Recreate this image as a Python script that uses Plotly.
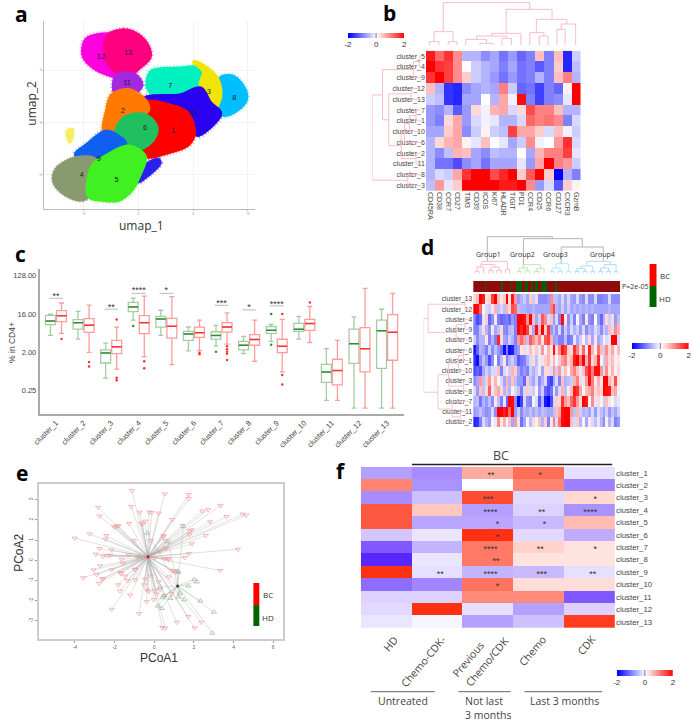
"""
Six-panel figure: UMAP, marker heatmap, cluster boxplots, patient heatmap, PCoA, treatment heatmap.
"""

import plotly.graph_objects as go

W, H = 693, 723
SANS = "Liberation Sans"
CALIBRI = "Open Sans"
BWR = [[0, "#0000ff"], [0.5, "#ffffff"], [1, "#ff0000"]]
BWR_F = [[0, "#3a00ff"], [0.5, "#ffffff"], [1, "#ff2000"]]
PINK = "#f7bcc8"

# --- a: UMAP cluster outlines, in umap units
UMAP_NAMES = ["12", "13", "11", "7", "8", "3", "10", "1", "2", "6", "9", "10b", "4", "5", "y"]
UMAP_COLORS = ["#ff00dc", "#ff0080", "#a428e0", "#00f0c0", "#00bfff", "#f0e400", "#2a00f0", "#ff0000",
               "#ff7a00", "#20c060", "#1060f0", "#2a20f0", "#8a9a70", "#40f020", "#f5ee60"]
UMAP_X = [
    [-4.79, -3.29, -1.80, -1.65, -2.99, -4.49, -5.0],
    [-2.69, -1.35, 0, 0.90, 1.05, 0, -0.90, -1.95, -2.84, -2.99],
    [-1.95, -0.30, 0.30, -0.45, -2.10],
    [1.20, 3.59, 5.69, 6.29, 5.69, 3.59, 2.10, 0.90],
    [7.49, 8.68, 9.73, 9.82, 8.98, 7.78, 7.19, 7.49],
    [5.09, 6.29, 7.19, 7.49, 6.89, 5.99, 5.69, 5.99],
    [0.60, 3.89, 5.69, 6.59, 7.49, 6.59, 5.39, 4.79, 2.99, 0.90],
    [0.60, 2.99, 4.49, 5.09, 4.49, 2.40, 0.90, 0.30, 1.05, 0.40],
    [-2.40, -0.90, 0.60, 0.90, -0.60, -1.80, -3.08, -2.84],
    [-1.20, 0.60, 1.65, 1.50, 0.60, -0.90, -2.10, -1.95],
    [-2.99, -1.80, -1.20, -2.99, -4.49, -5.69, -4.49],
    [0, 0.60, 1.80, 1.95, 0.90],
    [-7.49, -5.69, -3.89, -3.59, -4.19, -4.94, -6.29, -7.63],
    [-2.99, -0.90, 0.60, 0.05, -0.60, -1.80, -3.29, -4.49, -4.19],
    [-6.44, -6.05, -6.23],
]
UMAP_Y = [
    [7.87, 8.41, 8.19, 4.54, 4.70, 5.65, 6.44],
    [8.35, 8.83, 8.35, 7.24, 6.29, 5.17, 4.54, 4.86, 5.97, 7.56],
    [4.54, 4.54, 3.59, 2.80, 2.90],
    [4.86, 5.17, 5.17, 4.06, 3.27, 2.63, 2.48, 3.27],
    [4.22, 4.38, 3.11, 2.16, 1.21, 0.73, 1.21, 2.48],
    [5.81, 5.17, 4.22, 2.48, 1.37, 2.16, 3.75, 4.86],
    [2.30, 2.63, 3.27, 1.84, 0.89, -0.38, -1.17, 0.57, 1.20, 1.50],
    [1.95, 1.60, 0.90, -1.02, -2.13, -2.92, -3.24, -2.29, -0.70, 0.89],
    [2.63, 3.11, 2.16, 1.21, 0.25, -0.60, -0.86, 1.21],
    [0.50, 0.73, -0.38, -1.33, -2.29, -2.75, -1.65, -0.54],
    [-0.86, -1.33, -1.97, -3.24, -3.56, -3.08, -1.97],
    [-5.62, -4.19, -3.56, -3.87, -4.98],
    [-4.51, -3.40, -3.56, -5.14, -6.41, -7.30, -7.05, -5.78],
    [-3.24, -2.29, -3.24, -5.14, -6.41, -7.37, -7.37, -7.05, -4.19],
    [-0.86, -0.70, -1.81],
]
UMAP_LABELS = ["1", "2", "3", "4", "5", "6", "7", "8", "9", "10", "11", "12", "13"]
UMAP_LABEL_X = [3.2, -1.41, 6.44, -5.15, -1.98, 0.63, 2.93, 8.77, -3.59, 4.97, -1.02, -3.38, -0.93]
UMAP_LABEL_Y = [-0.83, 1.11, 2.92, -4.98, -5.52, -0.57, 3.49, 2.38, -3.46, 0.95, 3.78, 6.29, 6.67]

# --- b: marker heatmap
B_ROWS = ["cluster_5", "cluster_4", "cluster_9", "cluster_12", "cluster_13", "cluster_7", "cluster_1",
          "cluster_10", "cluster_6", "cluster_2", "cluster_11", "cluster_8", "cluster_3"]
B_COLS = ["CD45RA", "CD38", "CCR7", "CD27", "TIM3", "CD39", "ICOS", "Ki67", "HLADR", "TIGIT", "PD1",
          "CCR4", "CD25", "CCR6", "CD127", "CXCR3", "GzmB"]
B_Z = [
    [1.8, 1.2, 1.6, 0.9, -0.6, -0.6, -0.9, -0.7, -1.1, -0.8, -1.2, -1.0, 0.5, -1.0, 0.5, -1.7, -0.4],
    [2.0, 1.6, 1.5, 0.9, 0.0, -0.4, -0.6, -0.7, -1.0, -0.7, -1.1, -1.0, -1.3, -1.0, 0.4, -1.7, -0.5],
    [1.6, 2.0, 1.5, 0.9, 0.4, -0.4, -0.6, -0.8, -1.1, -0.8, -1.1, -1.0, -0.6, -1.0, 0.5, 1.0, -0.6],
    [0.5, -0.6, -1.6, -1.7, -0.9, -0.7, -0.6, -0.7, 1.0, -0.4, -1.2, -1.1, -1.5, -1.0, -1.2, 0.1, 2.0],
    [-0.4, -0.5, -1.6, -1.7, -0.7, -0.7, 0.0, -0.6, 0.7, -0.1, 1.9, -1.0, -1.5, -1.0, -0.9, -0.2, 2.0],
    [-0.8, -0.9, -0.6, -1.3, -0.8, 0.3, -0.1, 0.6, 0.7, -0.3, 0.3, 1.4, 1.0, 1.0, 0.5, -0.6, -0.6],
    [-0.8, -1.0, 0.3, 0.7, -0.8, -0.3, -0.1, -0.2, -0.6, -0.6, -0.3, 1.2, 1.0, 1.1, 0.9, -1.0, -0.3],
    [-0.7, -0.7, 0.4, 0.7, -0.9, -0.4, 0.1, -0.4, -0.5, 1.5, 0.7, 0.7, 0.4, -0.3, 0.5, -0.1, -0.4],
    [-0.6, 0.3, 0.6, 0.7, 0.1, -0.2, 0.5, 0.0, -0.2, -0.7, -0.4, 0.9, -0.1, 0.0, 0.8, 1.6, -0.3],
    [-0.6, -0.9, -0.5, 0.6, 0.5, -0.7, -0.9, -0.5, -0.6, -0.6, 0.0, -0.7, 0.6, 1.0, 1.0, 1.5, -0.2],
    [-0.6, -1.1, -1.1, -1.4, -0.9, -0.7, -1.1, -0.7, -0.7, -0.7, -0.2, -0.8, 0.7, 2.0, 1.0, 0.8, -0.4],
    [-0.6, -0.3, -0.4, 0.7, 1.6, 2.0, 2.0, 1.4, 1.7, 2.0, 0.4, 1.3, 2.0, 0.4, -2.0, -0.6, -1.0],
    [-0.5, 0.8, -0.2, 0.4, 2.0, 2.0, 2.0, 2.0, 1.8, 1.8, 2.0, 0.9, -0.8, -0.3, -1.3, 0.4, 0.1],
]
# dendrogram merges: (pos a, height a, pos b, height b, merge height)
B_TOP_TREE = [(386, 135, 415, 135, 125), (443, 135, 470, 135, 125), (400, 125, 458, 125, 95),
              (540, 135, 580, 135, 130), (497, 135, 560, 130, 118), (607, 135, 636, 135, 115),
              (530, 118, 622, 115, 108), (575, 108, 665, 135, 100), (721, 135, 748, 135, 108),
              (692, 135, 735, 108, 98), (775, 135, 800, 135, 88), (788, 88, 832, 135, 72),
              (712, 98, 805, 72, 58), (620, 100, 760, 58, 28), (428, 95, 692, 28, 8)]
B_ROW_TREE = [(0, 360, 1, 360, 355), (0.5, 355, 2, 360, 338), (3, 360, 4, 360, 330), (5, 360, 6, 360, 345),
              (5.5, 345, 7, 360, 325), (6.25, 325, 8, 360, 310), (9, 360, 10, 360, 345),
              (7.1, 310, 9.5, 345, 300), (3.5, 330, 8.3, 300, 262), (1.25, 338, 5.9, 262, 243),
              (11, 360, 12, 360, 320), (3.6, 243, 11.5, 320, 212)]

# --- c: boxplots, % in CD4+ (HD green, BC red)
C_CLUSTERS = [f"cluster_{i}" for i in range(1, 14)]
HD_HI = [15.8, 18.5, 3.3, 38, 19.6, 7.9, 8.6, 4.75, 9.1, 14.1, 2.44, 13.6, 20.7]
HD_Q3 = [14.9, 11.8, 2.27, 30, 14.1, 6.2, 6.1, 3.6, 8.1, 9.6, 1.04, 7.0, 11.4]
HD_MED = [10.9, 10.0, 1.93, 23.5, 12.2, 5.4, 5.0, 2.93, 6.6, 7.0, 0.69, 3.2, 6.4]
HD_Q1 = [9.0, 7.0, 1.12, 18.2, 7.8, 3.8, 4.1, 2.27, 5.6, 6.2, 0.39, 1.1, 0.84]
HD_LO = [5.0, 4.1, 0.49, 11.4, 5.0, 2.15, 2.8, 1.86, 3.6, 4.1, 0.148, 0.097, 0.097]
BC_HI = [29, 26, 7.8, 42, 41, 11.4, 16.9, 11.4, 12, 24, 3.83, 64, 49]
BC_Q3 = [19.2, 12.5, 3.8, 14.6, 12.6, 7.8, 10, 5.2, 4.06, 12, 1.37, 7.6, 15.5]
BC_MED = [14.6, 8.7, 2.7, 10, 8.2, 5.8, 7.9, 4.0, 2.77, 9.5, 0.74, 2.44, 5.9]
BC_Q1 = [10.6, 5.9, 1.86, 5.5, 4.3, 4.5, 6.0, 2.93, 1.96, 6.6, 0.34, 0.69, 1.3]
BC_LO = [5.6, 2.0, 0.8, 1.58, 1.02, 2.2, 3.1, 1.23, 0.69, 3.4, 0.148, 0.097, 0.097]
HD_OUT_X = [3, 6, 8, 8]
HD_OUT_Y = [8.3, 2.07, 16, 3.03]
BC_OUT_X = [0, 1, 1, 2, 2, 2, 3, 3, 5, 5, 6, 6, 6, 6, 6, 8, 8, 8, 9]
BC_OUT_Y = [4.1, 1.18, 0.93, 0.5, 0.44, 11.8, 1.23, 0.84, 1.96, 1.8, 2.77, 2.35, 2.07, 1.86, 1.32, 16, 0.58, 0.35, 30]
SIG_X = [0, 2, 3, 4, 6, 7, 8]
SIG_TEXT = ["**", "**", "****", "*", "***", "*", "****"]
SIG_TEXT_Y = [41, 22, 55, 55, 28, 22, 27]
SIG_BAR_Y = [37.5, 20.7, 49, 49, 25.6, 20, 24.8]

# --- d: patient heatmap
D_ROWS = ["cluster_13", "cluster_12", "cluster_4", "cluster_9", "cluster_5", "cluster_6", "cluster_1",
          "cluster_10", "cluster_3", "cluster_8", "cluster_7", "cluster_11", "cluster_2"]
D_13 = [.3, .5, 2, 1.8, .2, .3, 1.5, 2, .5, .2, .4, 2, .2, 1.8, .8, -.8, -.6, -.4, -.7, .4, -.4, .3, -.9, -.9, -.9,
        -.8, .9, -.5, -.5, -.7, -.3, -.7, -.3, -.7, -.8, -.3, -.8, -.9, -.3, -.9, -.9, -.3, -1, -1, -.9, -.9, -.3, -.9, -.9, -.9]
D_12 = [2, 1.9, 1.2, .1, -.3, -.4, -.2, .6, -.5, -.3, -.5, .6, .3, 1.4, 1.2, -.5, -.6, -.6, -.7, -.7, -.6, -.7, -.7, -.7, -.7,
        -.7, 1, 1.5, -.6, -.7, -.4, -.7, -.4, -.7, -.6, -.7, -.6, -.7, -.6, -.7, -.6, -.7, -.7, -.7, -.7, -.7, -.6, -.7, -.7, -.7]
D_4 = [-1, -1.4, -1.2, -.2, .4, -1.2, -.9, .2, -1, -1.2, -1.1, -1, -1.2, -.8, -1, 2, 2, 1.9, .8, 2, .5, -.7, -.4, 1.3, .9,
       -.3, .5, -.8, -.3, -1, 1.9, .2, -.9, -.4, -1, .1, -.7, -1, .2, -.9, -1, 0, -.8, -1.2, -.6, .3, -.4, .3, -.8, -.5]
D_9 = [-1, -1, -.5, .3, -.6, -.9, .2, -.7, -.5, .3, -.9, -1, -.6, -.5, -1, 2, 1.7, 2, 1.5, .3, -.7, 1.9, .6, 2, .4,
       1.6, -.8, -.5, -.9, -.3, -1, -.4, -.8, -.3, -.6, -.4, -.8, -.3, -.9, -.6, -.7, -.3, -.5, -.9, -.4, -.6, .5, -.3, .9, .6]
D_5 = [-.4, -.9, -.6, -.6, .2, -1, -.6, -1, 1.7, .3, -.7, -.8, -.4, -.6, -1, .8, 1.2, .8, -.5, 1.3, .9, .5, 1, .2, 1.3,
       1.5, .6, -.8, -.7, -1, -1, -.5, -1.1, -1, -.2, -.7, -.4, .1, -.5, .3, -.7, .2, -.7, -.5, .1, -.3, -.2, 2, 2, -.3]
D_6 = [-1.8, -1.2, -.6, -.7, -1, -.4, -.9, -.5, -.8, -1.1, -1.9, -1, -1.9, -1.8, -1, -.8, .2, .3, -.2, .5, .2, .4, -.2, .8, -.1,
       .6, .2, 1.9, .3, .9, 1.8, 1.5, .4, .3, 1.6, 1, .3, 1.2, .2, 1.7, .6, .1, 1.1, .5, -.4, .9, .3, .7, .1, .5]
D_1 = [-1.6, -1.9, -.9, -.5, -.8, -1.4, -.9, 0, -1, -.5, .2, -1, -.6, -.4, -.7, -1.3, -1.1, -1, -.6, -.3, .3, -.5, .2, -.2, .4,
       .6, .2, .6, -.1, .4, .8, 1, .3, .6, 1.8, 2, 1.1, 2, .6, 1.6, .3, .6, 1.7, .1, -.4, .7, .3, .5, .1, .2]
D_10 = [-1.4, -1.2, -1.4, -.7, -.4, -.6, -.3, -.3, .5, -1, -.3, .2, -.4, .6, .4, -.7, -1, -.8, -1, -.4, -.6, -.4, .2, -.7, .3,
        .3, -.3, .8, -.4, .8, -.2, .5, .1, .7, 1, .5, -.2, .5, 1.4, 1.8, 1, 1.9, 1.9, .8, -.3, .9, .2, .6, -.1, .3]
D_3 = [-.9, -.7, .8, -.5, .4, .8, .2, .6, .1, -.3, -.7, .6, -.6, .5, -.5, -.8, -.8, -1.2, .4, -.5, -.7, -.3, -.9, -.6, -.3,
       -1.3, -1.5, -.7, -.3, -1, .5, -.6, -.5, -.4, .6, 1, .3, -.2, .8, 1.9, 1, .2, .6, .2, 2, 2, .6, .3, 1.4, .2]
D_8 = [-.3, -.8, .5, -.5, .3, 1.3, -.2, .5, .7, .3, -.6, .5, -.6, .1, -.3, -.5, -1, -.3, .4, -.3, -.4, .1, -.8, -.4, -1.2,
       -1.4, -1.1, -.2, -.8, -.3, .6, -.5, .2, .5, 1.8, 1.6, .7, .1, .5, .7, 1, .3, .5, .3, 2, 1.9, 1.8, .5, .7, -.1]
D_7 = [-.6, -.5, -1.1, -.6, -.8, -.5, -.9, .2, -.5, -1, -.2, -1.2, 2, 1.9, -.9, -2, -1.5, -.3, -.9, -1, .1, -.3, -1.3, -.6, -1.8,
       -2, -1.4, -.3, .4, .3, 1.6, .8, .5, 1.2, 1.6, .8, .3, 2, 1.8, .1, .9, -.2, .3, .1, -.4, .5, .2, .1, -.3, -.2]
D_11 = [-.8, -.7, -.5, -.7, -.9, -.8, -.3, -.9, 2, 2, 1.8, 2, 1.2, 2, -.8, -.4, -.9, -.6, -.7, -.5, -.7, -.5, -.7, -.5, -.6,
        -.7, -.7, -.5, .5, .7, 1.9, 2, 2, .8, -.5, .6, -.4, -.6, -.5, -.7, -.3, -.8, -.3, -.5, -.7, -.4, -.8, -.5, -.7, -.4]
D_2 = [-1.7, -1.6, -1, -.3, -.6, -.8, .1, -.2, .9, .2, .6, -.1, .5, -.7, .8, -.2, -1.1, -.7, .1, -.5, .3, -.1, .5, -.6, .4,
       -1, .2, 1, -.3, 1.1, 1.9, 2, 2, .5, -.3, .4, -.6, .1, -.7, .2, -.3, -.5, -.2, -.6, -.9, -.1, -.6, -.3, -1, -.8]
D_Z = [D_13, D_12, D_4, D_9, D_5, D_6, D_1, D_10, D_3, D_8, D_7, D_11, D_2]
# positions of HD samples along the annotation strip (out of 100)
D_HD_SLOTS = [8, 19, 25, 29, 30, 31, 32, 35, 36, 39, 40, 42, 43, 46, 47, 48, 49, 56]
D_TREE_PINK = [(30, 124, 42, 124, 118), (36, 118, 56, 124, 105), (72, 124, 84, 124, 115), (96, 124, 110, 124, 115),
               (78, 115, 103, 115, 105), (122, 124, 135, 124, 112), (46, 105, 90, 105, 98), (50, 98, 128, 112, 88)]
D_TREE_GREEN = [(158, 124, 170, 124, 118), (182, 124, 196, 124, 116), (164, 118, 189, 116, 108),
                (210, 124, 226, 124, 118), (218, 118, 240, 124, 110), (176, 108, 229, 110, 98)]
D_TREE_CYAN = [(258, 124, 270, 124, 118), (282, 124, 296, 124, 118), (264, 118, 289, 118, 108),
               (308, 124, 320, 124, 118), (276, 108, 314, 118, 95)]
D_TREE_BLUE = [(334, 124, 346, 124, 118), (358, 124, 370, 124, 118), (340, 118, 364, 118, 110),
               (382, 124, 394, 124, 118), (352, 110, 388, 118, 102), (406, 124, 418, 124, 118),
               (430, 124, 442, 124, 118), (412, 118, 436, 118, 108), (454, 124, 464, 124, 118),
               (424, 108, 459, 118, 98), (370, 102, 441, 98, 88)]
D_TREE_GREY = [(292, 95, 420, 88, 45), (177, 98, 356, 45, 20), (67, 88, 265, 20, 14)]
D_ROW_TREE = [(0, 150, 1, 150, 135), (2, 150, 3, 150, 135), (2.5, 135, 4, 150, 108), (0.5, 135, 3.25, 108, 22),
              (5, 150, 6, 150, 130), (5.5, 130, 7, 150, 115), (8, 150, 9, 150, 130), (6.25, 115, 8.5, 130, 85),
              (11, 150, 12, 150, 120), (10, 150, 11.5, 120, 95), (7.4, 85, 10.75, 95, 52), (1.9, 22, 9.1, 52, 8)]

# --- e: PCoA
BC_PX = [-1.13, 0.53, 1.74, 1.74, 3.34, -2.83, -1.16, -0.73, -0.26, -0.12, 0.22, 2.42, 2.72, -2.76, 4.45, 4.64, 3.64,
         0.91, 2.81, -1.27, -0.66, -0.45, -0.60, -2.02, -1.87, -1.80, -1.94, 1.42, 1.89, 1.79, 1.77, -3.25, -2.42,
         -2.45, 0.48, 0.46, 0.55, 2.60, -4.01, -1.01, -0.18, 1.90, -2.76, -2.15, 0.56, 0.60, 0.31, 4.22, 1.75, -2.95,
         -2.58, -2.37, -2.22, -1.29, -0.86, 0.03, 1.54, -1.64, -1.57, 0.53, 0.70, 0.73, -2.73, -3.06, -2.15, -0.94,
         -0.98, 3.34, -2.90, 0.91, 0.99, 1.04, -3.58, -2.63, -2.58, -1.71, -1.67, -1.46, -0.17, 0.73, -2.78, -1.34,
         -0.96, -0.46, 0.22, -1.82, -0.51, -1.72, -1.21, -0.36, -0.28, 0.03, 0.28, 0.12, 0.86, 0.53, -0.38, -0.02,
         -2.14, -0.76, 1.72, 2.38, 1.14, 2.04, 0.40, 0.55]
BC_PY = [3.45, 3.28, 3.25, 3.05, 2.71, 2.61, 2.66, 2.38, 2.38, 2.36, 2.33, 2.44, 2.51, 2.19, 2.28, 2.23, 2.16,
         2.01, 1.90, 1.82, 1.85, 1.93, 1.77, 1.67, 1.70, 1.70, 1.62, 1.72, 1.50, 1.45, 1.27, 1.30, 1.22,
         1.04, 1.22, 1.16, 0.97, 1.22, 1.09, 0.97, 0.97, 0.81, 0.58, 0.51, 0.59, 0.58, 0.45, 0.54, 0.33, 0.30,
         0.20, 0.23, 0.25, 0.26, 0.15, 0.12, 0.13, 0.05, -0.17, 0.08, 0.08, 0.02, -0.28, -0.48, -0.48, -0.45,
         -0.45, -0.51, -0.71, -0.51, -0.51, -0.61, -0.87, -0.92, -0.92, -0.61, -0.66, -0.79, -0.78, -0.83, -1.14, -1.01,
         -0.97, -0.94, -1.07, -1.22, -1.22, -1.52, -1.73, -1.47, -1.55, -1.50, -1.47, -1.68, -1.65, -1.75, -2.05, -1.95,
         -2.43, -2.64, -2.79, -3.07, -3.07, -3.35, -3.33, -3.37]
HD_PX = [-0.35, 0.70, 1.47, -0.75, 1.19, 1.21, 2.02, 2.15, 1.72, 0.30, 1.29, 0.50, 0.40, 1.21, 0.81, 1.51, 2.33, 3.01, 0.18, 0.38, 2.93]
HD_PY = [1.35, 0.92, 1.67, 0.20, -0.53, -0.59, -0.94, -1.07, -1.27, -1.32, -1.63, -1.75, -1.85, -1.82, -1.88, -1.95, -2.01, -2.56, -2.26, -2.38, -3.60]
BC_CENTER = (-0.31, 0.18)
HD_CENTER = (1.18, -1.27)

# --- f: treatment heatmap
F_ROWS = [f"cluster_{i}" for i in range(1, 14)]
F_Z = [
    [-0.75, -0.9, 0.75, 1.3, -0.25],
    [1.1, -0.85, 0.0, 1.1, -1.0],
    [-0.9, -0.5, 1.6, -0.3, 0.35],
    [1.5, 0.5, -0.75, -0.35, -0.85],
    [1.5, -0.7, -0.7, -0.55, 0.6],
    [-0.45, -0.2, 1.85, -0.3, -0.65],
    [-1.3, -0.6, 1.2, 0.4, 0.25],
    [-1.7, -0.2, 1.2, 0.25, 0.25],
    [1.85, -0.25, -0.6, -0.55, -0.25],
    [-1.15, -0.95, 1.25, 0.3, 0.3],
    [-0.35, -0.35, 1.05, 1.05, -1.3],
    [-0.3, 1.85, -0.25, -0.75, -0.35],
    [-0.2, -0.08, -0.75, -0.5, 1.75],
]
F_STAR_ROW = [0, 0, 2, 2, 3, 3, 3, 4, 4, 5, 6, 6, 6, 7, 8, 8, 8, 8, 9]
F_STAR_COL = [2.06, 3.03, 2, 4.11, 2.05, 3.06, 4.01, 2.19, 3.11, 2.19, 2.05, 3.03, 4.11, 2.16, 1.06, 2.05, 3.06, 4.06, 2.19]
F_STARS = ["**", "*", "***", "*", "****", "**", "****", "*", "*", "*", "****", "**", "*", "**", "**", "****", "***", "**", "*"]

CBAR_STOPS = [-2, -1.5, -1, -0.5, 0, 0.5, 1, 1.5, 2]

fig = go.Figure()
n_axes = 0
OFF = dict(visible=False, fixedrange=True, showgrid=False, zeroline=False)


def new_axes(x0, x1, y0, y1, xopts, yopts):
    """Add an x/y axis pair placed by pixel box, return the trace refs."""
    global n_axes
    n_axes += 1
    sfx = "" if n_axes == 1 else str(n_axes)
    xr, yr = f"x{sfx}", f"y{sfx}"
    fig.update_layout(**{
        f"xaxis{sfx}": dict(domain=[x0 / W, x1 / W], anchor=yr, **xopts),
        f"yaxis{sfx}": dict(domain=[1 - y1 / H, 1 - y0 / H], anchor=xr, **yopts),
    })
    return xr, yr


def tree_xy(nodes):
    xs, ys = [], []
    for a, ha, b, hb, h in nodes:
        xs += [a, a, b, b, None]
        ys += [ha, h, h, hb, None]
    return xs, ys


def add_tree(nodes, refs, color, horizontal=False):
    xs, ys = tree_xy(nodes)
    if horizontal:
        xs, ys = ys, xs
    fig.add_trace(go.Scatter(x=xs, y=ys, mode="lines", xaxis=refs[0], yaxis=refs[1], showlegend=False,
                             line=dict(color=color, width=1), hoverinfo="skip"))


def add_cbar(x0, x1, y0, y1):
    refs = new_axes(x0, x1, y0, y1,
                    dict(range=[-2, 2], tickvals=[-2, 0, 2], ticktext=["-2", "0", "2"], ticks="", showgrid=False,
                         zeroline=False, tickfont=dict(family=SANS, size=8, color="#333"), fixedrange=True, ticklen=0),
                    dict(OFF, range=[0, 1]))
    fig.add_trace(go.Heatmap(x=CBAR_STOPS, y=[0, 1], z=[CBAR_STOPS, CBAR_STOPS], zmin=-2, zmax=2, zsmooth="best",
                             colorscale=BWR, showscale=False, xaxis=refs[0], yaxis=refs[1], hoverinfo="skip"))
    fig.add_trace(go.Scatter(x=[0, 0], y=[0, 1], mode="lines", line=dict(color="#777", width=1),
                             xaxis=refs[0], yaxis=refs[1], showlegend=False, hoverinfo="skip"))


# pixel canvas for free text and rules
PIX = new_axes(0, W, 0, H, dict(OFF, range=[0, W]), dict(OFF, range=[H, 0]))
annotations, shapes = [], []


def note(text, x, y, size=8, color="#333", angle=0, family=SANS, anchor="center", bold=False):
    label = f"<b>{text}</b>" if bold else text
    annotations.append(dict(text=label, x=x, y=y, xref=PIX[0], yref=PIX[1], showarrow=False, xanchor=anchor,
                            yanchor="middle", textangle=angle, font=dict(family=family, size=size, color=color)))


def rule(x0, x1, y, color="#666", width=1):
    shapes.append(dict(type="line", x0=x0, x1=x1, y0=y, y1=y, xref=PIX[0], yref=PIX[1],
                       line=dict(color=color, width=width)))


def block(x0, x1, y0, y1, color):
    shapes.append(dict(type="rect", x0=x0, x1=x1, y0=y0, y1=y1, xref=PIX[0], yref=PIX[1],
                       fillcolor=color, line=dict(width=0)))


for letter, lx, ly in [("a", 15, 14), ("b", 388, 13), ("c", 14, 254), ("d", 427, 247), ("e", 15, 473), ("f", 339, 471)]:
    note(letter, lx, ly, size=21, color="#000", family=CALIBRI, bold=True)

# --- panel a
a_ref = new_axes(37.7, 252, 21, 209,
                 dict(range=[-8.59, 10.69], tickvals=[-5, 0, 5, 10], gridcolor="#f3f3f3", zeroline=False, showline=True,
                      linecolor="#bbb", mirror=False, ticks="outside", ticklen=1, tickcolor="#bbb",
                      tickfont=dict(size=3, color="#777"), fixedrange=True),
                 dict(range=[-8.25, 9.71], tickvals=[-5, 0, 5], gridcolor="#f3f3f3", zeroline=False, showline=True,
                      linecolor="#bbb", mirror=False, ticks="outside", ticklen=1, tickcolor="#bbb",
                      tickfont=dict(size=3, color="#777"), fixedrange=True))
# dotted halo first so the cluster edges look scattered rather than cut
for color, xs, ys in zip(UMAP_COLORS, UMAP_X, UMAP_Y):
    fig.add_trace(go.Scatter(x=xs + xs[:1], y=ys + ys[:1], mode="lines", opacity=0.45, xaxis=a_ref[0], yaxis=a_ref[1],
                             line=dict(color=color, width=7, dash="1px,2px", shape="spline", smoothing=1),
                             showlegend=False, hoverinfo="skip"))
for name, color, xs, ys in zip(UMAP_NAMES, UMAP_COLORS, UMAP_X, UMAP_Y):
    fig.add_trace(go.Scatter(x=xs + xs[:1], y=ys + ys[:1], mode="lines", fill="toself", fillcolor=color,
                             line=dict(color=color, width=4, shape="spline", smoothing=1), name=name,
                             xaxis=a_ref[0], yaxis=a_ref[1], showlegend=False, hoverinfo="skip"))
fig.add_trace(go.Scatter(x=UMAP_LABEL_X, y=UMAP_LABEL_Y, text=UMAP_LABELS, mode="text", xaxis=a_ref[0], yaxis=a_ref[1],
                         textfont=dict(family=SANS, size=7.5, color="#222"), showlegend=False, hoverinfo="skip"))
note("umap_1", 136, 225, size=12, family=CALIBRI)
note("umap_2", 24, 103, size=12, family=CALIBRI, angle=-90)

# --- panel b
b_ref = new_axes(425, 582, 50.7, 191,
                 dict(range=[-0.5, 16.5], tickvals=list(range(17)), ticktext=B_COLS, tickangle=90, ticks="",
                      tickfont=dict(family=SANS, size=7, color="#444"), showgrid=False, zeroline=False, fixedrange=True),
                 dict(range=[12.5, -0.5], tickvals=list(range(13)), ticktext=B_ROWS, ticks="",
                      tickfont=dict(family=SANS, size=7, color="#444"), showgrid=False, zeroline=False, fixedrange=True))
fig.add_trace(go.Heatmap(z=B_Z, x=list(range(17)), y=list(range(13)), zmin=-2, zmax=2, colorscale=BWR, showscale=False,
                         xaxis=b_ref[0], yaxis=b_ref[1], hoverinfo="skip"))
b_top = new_axes(425, 582, 2, 46, dict(OFF, range=[375, 847]), dict(OFF, range=[138, 6]))
add_tree(B_TOP_TREE, b_top, PINK)
b_left = new_axes(370.7, 425, 50.7, 191, dict(OFF, range=[212, 375]), dict(OFF, range=[12.5, -0.5]))
add_tree(B_ROW_TREE, b_left, PINK, horizontal=True)
add_cbar(346, 403, 33, 38)

# --- panel c
c_ref = new_axes(33, 403, 269, 414,
                 dict(range=[-0.596, 12.62], tickvals=list(range(13)), ticktext=C_CLUSTERS, tickangle=-45, ticks="",
                      tickfont=dict(family=SANS, size=7.5, color="#444"), showgrid=False, zeroline=False, showline=True,
                      linecolor="#aaa", linewidth=1.5, fixedrange=True),
                 dict(type="log", range=[-1.153, 2.264], tickvals=[0.25, 2, 16, 128],
                      ticktext=["0.25", "2.00", "16.00", "128.00"], ticks="",
                      tickfont=dict(family=SANS, size=7.5, color="#444"), showgrid=False, zeroline=False, showline=True,
                      linecolor="#aaa", linewidth=1.5, fixedrange=True))
series = [(HD_LO, HD_Q1, HD_MED, HD_Q3, HD_HI, -0.2, "#a4cba4", "#2f8f2f", HD_OUT_X, HD_OUT_Y, "#2f8f2f"),
          (BC_LO, BC_Q1, BC_MED, BC_Q3, BC_HI, 0.2, "#ff9c9c", "#ff3030", BC_OUT_X, BC_OUT_Y, "#ff3030")]
for lo, q1, med, q3, hi, off, col, med_col, out_x, out_y, out_col in series:
    pos = [i + off for i in range(13)]
    fig.add_trace(go.Box(x=pos, lowerfence=lo, q1=q1, median=med, q3=q3, upperfence=hi, width=0.36, whiskerwidth=0.5,
                         boxpoints=False, fillcolor="rgba(0,0,0,0)", line=dict(color=col, width=1.3),
                         xaxis=c_ref[0], yaxis=c_ref[1], showlegend=False, hoverinfo="skip"))
    mx, my = [], []
    for p, m in zip(pos, med):
        mx += [p - 0.18, p + 0.18, None]
        my += [m, m, None]
    fig.add_trace(go.Scatter(x=mx, y=my, mode="lines", line=dict(color=med_col, width=1.5), xaxis=c_ref[0],
                             yaxis=c_ref[1], showlegend=False, hoverinfo="skip"))
    fig.add_trace(go.Scatter(x=[x + off for x in out_x], y=out_y, mode="markers", xaxis=c_ref[0], yaxis=c_ref[1],
                             marker=dict(color=out_col, size=2.5), showlegend=False, hoverinfo="skip"))
bar_x, bar_y = [], []
for sx, sy in zip(SIG_X, SIG_BAR_Y):
    bar_x += [sx - 0.25, sx + 0.25, None]
    bar_y += [sy, sy, None]
fig.add_trace(go.Scatter(x=bar_x, y=bar_y, mode="lines", line=dict(color="#bbb", width=1), xaxis=c_ref[0],
                         yaxis=c_ref[1], showlegend=False, hoverinfo="skip"))
fig.add_trace(go.Scatter(x=SIG_X, y=SIG_TEXT_Y, text=SIG_TEXT, mode="text", xaxis=c_ref[0], yaxis=c_ref[1],
                         textfont=dict(family=SANS, size=9, color="#333"), showlegend=False, hoverinfo="skip"))
note("% in CD4+", 5, 342, size=8.5, angle=-90, color="#444")

# --- panel d
d_ref = new_axes(473, 622, 294, 427,
                 dict(OFF, range=[-0.5, 49.5]),
                 dict(range=[12.5, -0.5], tickvals=list(range(13)), ticktext=D_ROWS, ticks="",
                      tickfont=dict(family=SANS, size=6.6, color="#444"), showgrid=False, zeroline=False, fixedrange=True))
fig.add_trace(go.Heatmap(z=D_Z, x=list(range(50)), y=list(range(13)), zmin=-2, zmax=2, colorscale=BWR, showscale=False,
                         xaxis=d_ref[0], yaxis=d_ref[1], hoverinfo="skip"))
strip = [[0 if i in D_HD_SLOTS else 1 for i in range(100)]]
d_strip = new_axes(473, 622, 281, 292, dict(OFF, range=[-0.5, 99.5]), dict(OFF, range=[-0.5, 0.5]))
fig.add_trace(go.Heatmap(z=strip, zmin=0, zmax=1, colorscale=[[0, "#0a5c0a"], [1, "#8f0a0a"]], showscale=False,
                         xaxis=d_strip[0], yaxis=d_strip[1], hoverinfo="skip"))
d_top = new_axes(473, 622, 236, 278, dict(OFF, range=[24, 471]), dict(OFF, range=[138, 12]))
add_tree(D_TREE_PINK, d_top, "#f7bcc8")
add_tree(D_TREE_GREEN, d_top, "#bfe8b4")
add_tree(D_TREE_CYAN, d_top, "#b5ecf2")
add_tree(D_TREE_BLUE, d_top, "#aedcf5")
add_tree(D_TREE_GREY, d_top, "#b4b4b4")
d_left = new_axes(422.7, 473, 294, 427, dict(OFF, range=[8, 160]), dict(OFF, range=[12.5, -0.5]))
add_tree(D_ROW_TREE, d_left, "#f2c4cf", horizontal=True)
for g, gx in [("Group1", 489), ("Group2", 523), ("Group3", 557), ("Group4", 604)]:
    note(g, gx, 254, size=7, family=CALIBRI)
note("P=2e-05", 637, 286, size=7, family=CALIBRI)
block(652, 659, 264, 286, "#ff0000")
block(652, 659, 286, 307, "#006400")
note("BC", 668, 275, size=8, family=CALIBRI)
note("HD", 668, 298, size=8, family=CALIBRI)
add_cbar(634, 691.7, 343, 349)

# --- panel e
e_ref = new_axes(32, 280, 484.3, 639.3,
                 dict(range=[-5.83, 6.49], tickvals=[-4, -2, 0, 2, 4, 6], ticktext=["-4", "-2", "0", "2", "4", "6"],
                      ticks="outside", ticklen=2, tickcolor="#999",
                      tickfont=dict(family=SANS, size=5, color="#666"), showgrid=False, zeroline=False, showline=True,
                      mirror=True, linecolor="#ccc", linewidth=1.5, fixedrange=True),
                 dict(range=[-3.91, 3.76], tickvals=[-3, -2, -1, 0, 1, 2, 3], ticktext=["-3", "-2", "-1", "0", "1", "2", "3"],
                      ticks="outside", ticklen=2, tickcolor="#999",
                      tickangle=-90, tickfont=dict(family=SANS, size=5, color="#666"), showgrid=False, zeroline=False,
                      showline=True, mirror=True, linecolor="#ccc", linewidth=1.5, fixedrange=True))
for px, py, center in [(BC_PX, BC_PY, BC_CENTER), (HD_PX, HD_PY, HD_CENTER)]:
    sx, sy = [], []
    for a, b in zip(px, py):
        sx += [center[0], a, None]
        sy += [center[1], b, None]
    fig.add_trace(go.Scatter(x=sx, y=sy, mode="lines", line=dict(color="rgba(170,170,170,0.5)", width=0.7),
                             xaxis=e_ref[0], yaxis=e_ref[1], showlegend=False, hoverinfo="skip"))
fig.add_trace(go.Scatter(x=BC_PX, y=BC_PY, mode="markers", xaxis=e_ref[0], yaxis=e_ref[1], showlegend=False, hoverinfo="skip",
                         marker=dict(symbol="triangle-down-open", size=4.5, color="#f29a9a", line=dict(width=0.7))))
fig.add_trace(go.Scatter(x=HD_PX, y=HD_PY, mode="markers", xaxis=e_ref[0], yaxis=e_ref[1], showlegend=False, hoverinfo="skip",
                         marker=dict(symbol="triangle-up-open", size=4.5, color="#8fb88f", line=dict(width=0.7))))
fig.add_trace(go.Scatter(x=[BC_CENTER[0], HD_CENTER[0]], y=[BC_CENTER[1], HD_CENTER[1]], mode="markers", xaxis=e_ref[0],
                         yaxis=e_ref[1], showlegend=False, hoverinfo="skip",
                         marker=dict(size=3, color=["#ff0000", "#006400"])))
note("PCoA1", 154, 658, size=12)
note("PCoA2", 12, 553, size=12, angle=-90)
block(250, 256, 583, 605, "#ff0000")
block(250, 256, 605, 626, "#006400")
note("BC", 265, 594, size=8, family=CALIBRI)
note("HD", 265, 617, size=8, family=CALIBRI)

# --- panel f
f_ref = new_axes(359, 617, 466.7, 628,
                 dict(OFF, range=[-0.5, 4.5]),
                 dict(range=[12.5, -0.5], tickvals=list(range(13)), ticktext=F_ROWS, ticks="", side="right",
                      tickfont=dict(family=SANS, size=7.8, color="#444"), showgrid=False, zeroline=False, fixedrange=True))
fig.add_trace(go.Heatmap(z=F_Z, x=list(range(5)), y=list(range(13)), zmin=-2, zmax=2, colorscale=BWR_F, showscale=False,
                         xaxis=f_ref[0], yaxis=f_ref[1], hoverinfo="skip"))
fig.add_trace(go.Scatter(x=F_STAR_COL, y=[r + 0.2 for r in F_STAR_ROW], text=F_STARS, mode="text", xaxis=f_ref[0], yaxis=f_ref[1],
                         textfont=dict(family=SANS, size=9, color="#333"), showlegend=False, hoverinfo="skip"))
note("BC", 501.7, 455, size=12.5, family=CALIBRI, color="#444")
rule(411, 614, 464.5, color="#222", width=1.5)
for label, lx, ly in [("HD", 389, 644), ("Chemo-CDK-", 421.7, 661.7), ("Previous", 468, 659), ("Chemo/CDK", 486.7, 661.7),
                      ("Chemo", 533, 651), ("CDK", 588, 645)]:
    note(label, lx, ly, size=10.5, family=CALIBRI, angle=-50, color="#444")
rule(369, 434, 691.7)
rule(458, 511, 691.7)
rule(525, 604, 691.7)
note("Untreated", 402, 701, size=10.5, family=CALIBRI, color="#444")
note("Not last", 463, 701, size=10.5, family=CALIBRI, color="#444", anchor="left")
note("3 months", 463, 714.5, size=10.5, family=CALIBRI, color="#444", anchor="left")
note("Last 3 months", 566, 701, size=10.5, family=CALIBRI, color="#444")
add_cbar(618.7, 675.7, 670, 676)

fig.update_layout(width=W, height=H, margin=dict(l=0, r=0, t=0, b=0), plot_bgcolor="rgba(0,0,0,0)", paper_bgcolor="white",
                  boxmode="overlay", showlegend=False, annotations=annotations, shapes=shapes)
fig.write_html("out.html", post_script="document.body.style.margin='0';", config={"displayModeBar": False})
